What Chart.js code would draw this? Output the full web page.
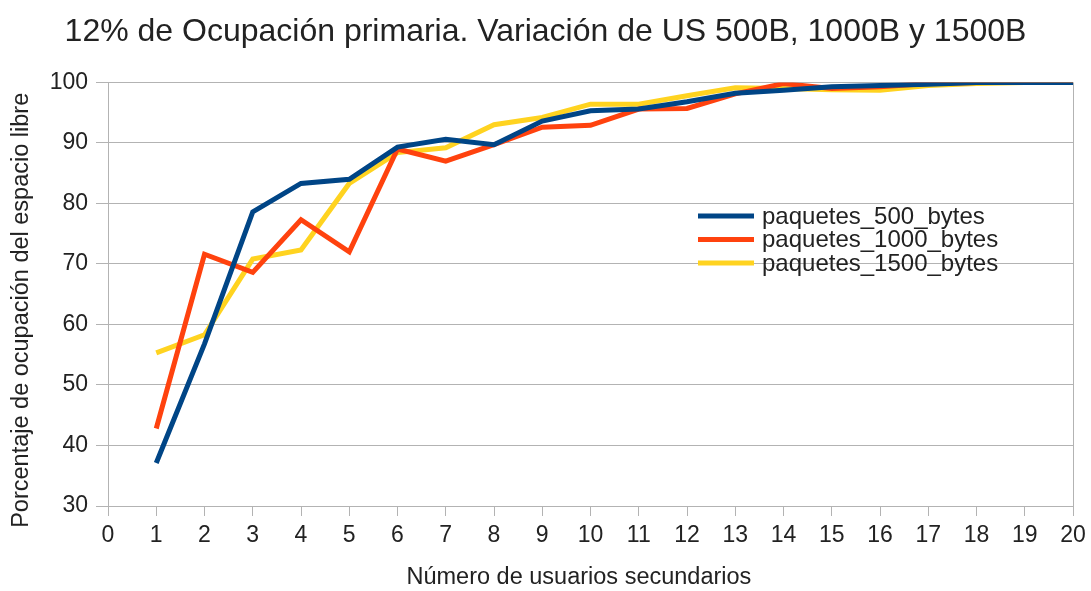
<!DOCTYPE html>
<html>
<head>
<meta charset="utf-8">
<title>Ocupación primaria 12%</title>
<script src="https://cdn.jsdelivr.net/npm/chart.js@4/dist/chart.umd.min.js"></script>
<style>
    html, body { margin: 0; padding: 0; background: #ffffff; }
    #wrap { width: 1091px; height: 591px; }
</style>
</head>
<body>
<div id="wrap"><canvas id="grafica" width="1091" height="591"></canvas></div>
<script>
// Número de usuarios secundarios (eje X)
const usuarios = [1, 2, 3, 4, 5, 6, 7, 8, 9, 10, 11, 12, 13, 14, 15, 16, 17, 18, 19, 20];

// Porcentaje de ocupación del espacio libre por tamaño de paquete
const paquetes500 = [37.1, 56.8, 78.6, 83.3, 84.0, 89.3, 90.6, 89.7, 93.6, 95.3, 95.6, 96.8, 98.2, 98.7, 99.3, 99.5, 99.7, 100, 100, 100];
const paquetes1000 = [42.8, 71.6, 68.6, 77.3, 72.0, 89.0, 87.0, 89.7, 92.6, 92.9, 95.6, 95.7, 98.1, 99.8, 99.0, 99.3, 99.8, 100, 100, 100];
const paquetes1500 = [55.3, 58.3, 70.8, 72.3, 83.3, 88.4, 89.2, 93.0, 94.2, 96.4, 96.4, 97.8, 99.1, 99.0, 98.8, 98.7, 99.5, 99.8, 100, 100];

const etiquetas = ['paquetes_500_bytes', 'paquetes_1000_bytes', 'paquetes_1500_bytes'];
const colores = ['#004586', '#ff420e', '#ffd320'];
const tituloX = 'Número de usuarios secundarios';
const tituloY = 'Porcentaje de ocupación del espacio libre';

const FUENTE = '"Liberation Sans", Arial, sans-serif';
const GRIS = '#b3b3b3';
const TEXTO = '#222222';

function serie(valores) {
    return valores.map((v, i) => ({ x: usuarios[i], y: v }));
}

// Leyenda dibujada dentro del área del gráfico
const leyendaInterna = {
    id: 'leyendaInterna',
    afterDatasetsDraw(chart) {
        const ctx = chart.ctx;
        const x0 = 698, x1 = 754, xt = 762;
        const y0 = 216, paso = 23.5;
        ctx.save();
        ctx.font = '24px ' + FUENTE;
        ctx.textBaseline = 'middle';
        ctx.textAlign = 'left';
        chart.data.datasets.forEach((ds, i) => {
            const y = y0 + i * paso;
            ctx.strokeStyle = ds.borderColor;
            ctx.lineWidth = 5;
            ctx.beginPath();
            ctx.moveTo(x0, y);
            ctx.lineTo(x1, y);
            ctx.stroke();
            ctx.fillStyle = TEXTO;
            ctx.fillText(ds.label, xt, y + 1);
        });
        ctx.restore();
    }
};

// Títulos de los ejes, colocados a mano fuera del área de trazado
const titulosEjes = {
    id: 'titulosEjes',
    afterDraw(chart) {
        const ctx = chart.ctx;
        const area = chart.chartArea;
        ctx.save();
        ctx.font = '23.5px ' + FUENTE;
        ctx.fillStyle = TEXTO;
        ctx.textAlign = 'center';
        ctx.textBaseline = 'middle';
        ctx.fillText(tituloX, area.left + (area.right - area.left) * 0.488, 578);
        ctx.translate(22, area.top + (area.bottom - area.top) * 0.538);
        ctx.rotate(-Math.PI / 2);
        ctx.fillText(tituloY, 0, 0);
        ctx.restore();
    }
};

const ctx = document.getElementById('grafica');
new Chart(ctx, {
    type: 'line',
    data: {
        datasets: [
            { label: etiquetas[0], data: serie(paquetes500), borderColor: colores[0], backgroundColor: colores[0] },
            { label: etiquetas[1], data: serie(paquetes1000), borderColor: colores[1], backgroundColor: colores[1] },
            { label: etiquetas[2], data: serie(paquetes1500), borderColor: colores[2], backgroundColor: colores[2] }
        ]
    },
    options: {
        responsive: false,
        animation: false,
        layout: { padding: 0 },
        elements: {
            line: { borderWidth: 5, tension: 0, fill: false },
            point: { radius: 0, hoverRadius: 0 }
        },
        plugins: {
            legend: { display: false },
            tooltip: { enabled: false },
            title: {
                display: true,
                text: '12% de Ocupación primaria. Variación de US 500B, 1000B y 1500B',
                color: TEXTO,
                font: { family: FUENTE, size: 32, weight: 'normal', lineHeight: 1.2 },
                padding: { top: 13, bottom: 31 }
            }
        },
        scales: {
            x: {
                type: 'linear',
                min: 0,
                max: 20,
                ticks: {
                    stepSize: 1,
                    color: TEXTO,
                    padding: 6,
                    maxRotation: 0,
                    autoSkip: false,
                    font: { family: FUENTE, size: 23 }
                },
                grid: {
                    drawOnChartArea: true,
                    color: c => (c.tick && c.tick.value === 20 ? GRIS : 'rgba(0,0,0,0)'),
                    tickColor: GRIS,
                    tickLength: 10,
                    lineWidth: 1
                },
                border: { color: GRIS, width: 1 },
                afterFit(scale) {
                    scale.height = 85;
                    scale.paddingLeft = 0;
                    scale.paddingRight = 18;
                }
            },
            y: {
                min: 30,
                max: 100,
                ticks: {
                    stepSize: 10,
                    color: TEXTO,
                    padding: 8,
                    font: { family: FUENTE, size: 23 }
                },
                grid: {
                    color: GRIS,
                    tickColor: GRIS,
                    tickLength: 12,
                    lineWidth: 1
                },
                border: { color: GRIS, width: 1 },
                afterFit(scale) {
                    scale.width = 108;
                }
            }
        }
    },
    plugins: [leyendaInterna, titulosEjes]
});
</script>
</body>
</html>
